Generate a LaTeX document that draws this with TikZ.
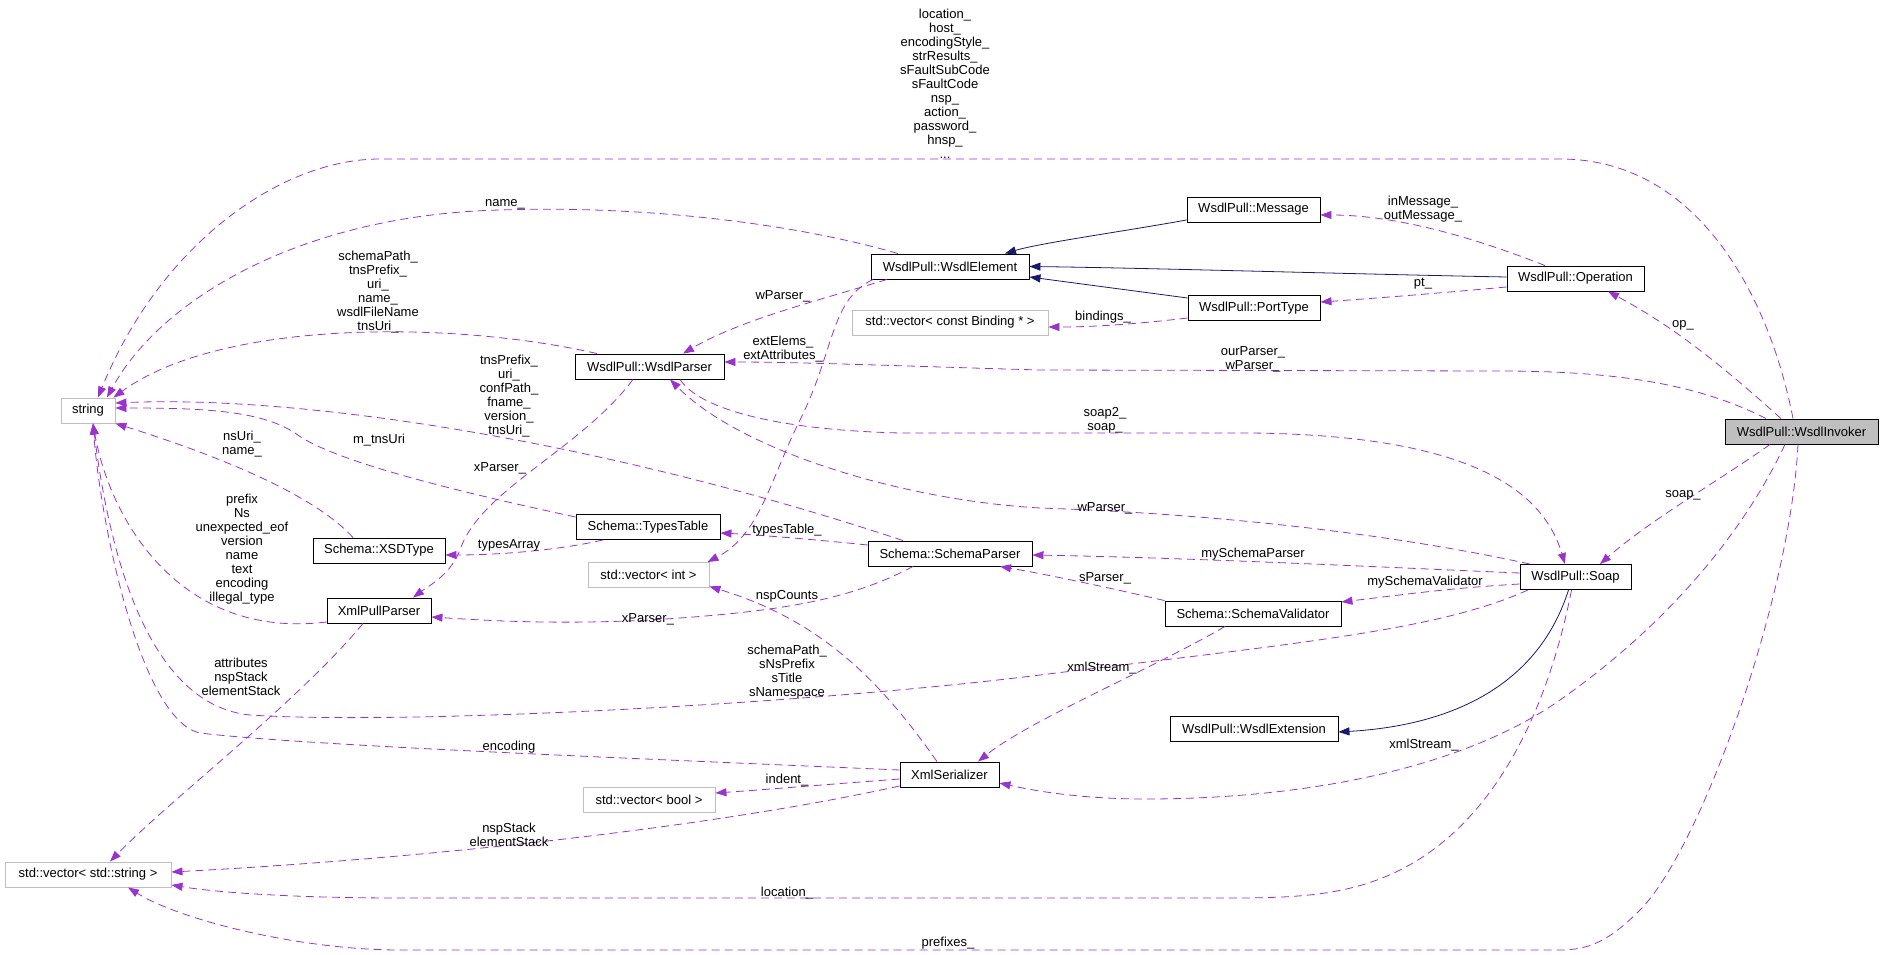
\documentclass[tikz,border=0pt]{standalone}
\usepackage{fontspec}
\setmainfont{Liberation Sans}
\usetikzlibrary{arrows.meta,calc}
\definecolor{collc}{RGB}{154,50,205}
\definecolor{inhc}{RGB}{25,25,112}
\definecolor{ugray}{RGB}{191,191,191}
\begin{document}
\begin{tikzpicture}[x=1pt,y=-1pt,
  cls/.style={draw=black, line width=0.9pt, minimum height=25pt, inner sep=0pt, font=\fontsize{13}{14}\selectfont},
  ucls/.style={cls, draw=ugray},
  lab/.style={align=center, font=\fontsize{13}{14}\selectfont, inner sep=0pt},
  colle/.style={draw=collc, line width=0.8pt, dash pattern=on 8pt off 5pt, -{Triangle[length=11pt,width=8pt]}},
  inhe/.style={draw=inhc, line width=0.8pt, -{Triangle[length=11pt,width=8pt]}}
]
\useasboundingbox (0,0) rectangle (1883,955);

% nodes
\node[cls, fill=ugray, minimum width=153pt] (inv) at (1801.5,431.5) {WsdlPull::WsdlInvoker};
\node[cls, minimum width=137pt] (op) at (1575.5,278.5) {WsdlPull::Operation};
\node[cls, minimum width=133pt] (msg) at (1253.5,209.5) {WsdlPull::Message};
\node[cls, minimum width=158pt] (elem) at (950,266.5) {WsdlPull::WsdlElement};
\node[cls, minimum width=132pt] (port) at (1254,308) {WsdlPull::PortType};
\node[ucls, minimum width=196pt] (bind) at (950,322.5) {std::vector< const Binding * >};
\node[cls, minimum width=149pt] (wparser) at (649.5,366.5) {WsdlPull::WsdlParser};
\node[ucls, minimum width=54pt] (string) at (88,410.5) {string};
\node[cls, minimum width=144pt] (types) at (648,527) {Schema::TypesTable};
\node[cls, minimum width=132pt] (xsd) at (379,550.5) {Schema::XSDType};
\node[cls, minimum width=164pt] (sparser) at (950,553.5) {Schema::SchemaParser};
\node[ucls, minimum width=121pt] (vint) at (648.5,575) {std::vector< int >};
\node[cls, minimum width=104pt] (xpp) at (379,610.5) {XmlPullParser};
\node[cls, minimum width=176pt] (sval) at (1253,613.5) {Schema::SchemaValidator};
\node[cls, minimum width=111pt] (soap) at (1575.5,577) {WsdlPull::Soap};
\node[cls, minimum width=168pt] (ext) at (1254,729) {WsdlPull::WsdlExtension};
\node[cls, minimum width=99pt] (xser) at (949.5,774.5) {XmlSerializer};
\node[ucls, minimum width=132pt] (vbool) at (649,799.5) {std::vector< bool >};
\node[ucls, minimum width=166pt] (vstr) at (88,874.5) {std::vector< std::string >};

% inheritance
\draw[inhe] ($(msg.west)+(0,10.5)$) .. controls (1120,232) and (1040,243) .. ($(elem.north)+(55,0)$);
\draw[inhe] ($(op.west)+(0,-1.5)$) .. controls (1350,274) and (1150,268) .. (elem.east);
\draw[inhe] ($(port.west)+(0,-10)$) -- ($(elem.east)+(0,10.5)$);
\draw[inhe] ($(soap.south)+(-7,0)$) .. controls (1540,680) and (1460,725) .. ($(ext.east)+(0,3)$);

% collaboration
\draw[colle] ($(inv.north)+(-8.5,0)$) .. controls (1770,300) and (1700,159) .. (1560,159) -- (380,159) .. controls (280,159) and (160,245) .. ($(string.north)+(10,0)$);
\draw[colle] ($(elem.north)+(-52,0)$) .. controls (800,225) and (650,205) .. (500,210) .. controls (300,215) and (160,300) .. ($(string.north)+(19,0)$);
\draw[colle] ($(wparser.north)+(-52.5,0)$) .. controls (450,320) and (220,320) .. ($(string.north east)+(-2,0)$);
\draw[colle] ($(sparser.north)+(-47,0)$) .. controls (600,440) and (300,395) .. ($(string.east)+(0,-7.5)$);
\draw[colle] ($(types.west)+(0,-10)$) .. controls (450,490) and (330,460) .. (295,433) .. controls (260,410) and (200,408) .. ($(string.east)+(0,-2.5)$);
\draw[colle] ($(xsd.north)+(-26,0)$) .. controls (310,490) and (200,450) .. (string.south east);
\draw[colle] ($(xpp.west)+(0,11.5)$) .. controls (180,640) and (110,520) .. ($(string.south)+(5,0)$);
\draw[colle] ($(xser.west)+(0,-4.5)$) .. controls (600,757) and (300,745) .. (200,733) .. controls (140,720) and (100,520) .. ($(string.south)+(5,0)$);
\draw[colle] ($(soap.south)+(-47.5,0)$) .. controls (1440,630) and (1300,643) .. (1040,675) .. controls (800,705) and (400,725) .. (250,715) .. controls (150,705) and (110,560) .. ($(string.south)+(5,0)$);
\draw[colle] ($(wparser.south)+(-16.5,0)$) .. controls (580,450) and (480,490) .. (460,550) .. controls (450,575) and (430,585) .. ($(xpp.north)+(34,0)$);
\draw[colle] ($(elem.south)+(-63,0)$) .. controls (820,300) and (740,320) .. ($(wparser.north)+(33.5,0)$);
\draw[colle] ($(elem.south)+(-77,0)$) .. controls (830,300) and (835,350) .. (800,420) .. controls (770,480) and (760,535) .. ($(vint.north east)+(-2,0)$);
\draw[colle] ($(port.west)+(0,10)$) .. controls (1120,326) and (1080,327) .. ($(bind.east)+(0,4.5)$);
\draw[colle] ($(op.north)+(-30.5,0)$) .. controls (1480,240) and (1400,215) .. ($(msg.east)+(0,5.5)$);
\draw[colle] ($(op.west)+(0,8.5)$) .. controls (1440,293) and (1380,298) .. ($(port.east)+(0,-6)$);
\draw[colle] ($(inv.north)+(-20.5,0)$) .. controls (1730,373) and (1680,330) .. ($(op.south)+(32.5,0)$);
\draw[colle] ($(inv.north)+(-35.5,0)$) .. controls (1700,385) and (1620,371) .. (1500,371) -- (1040,370) .. controls (900,366) and (800,362) .. ($(wparser.east)+(0,-4.5)$);
\draw[colle] ($(inv.south)+(-31.5,0)$) .. controls (1720,480) and (1650,520) .. ($(soap.north)+(24.5,0)$);
\draw[colle] ($(inv.south)+(-16.5,0)$) .. controls (1740,540) and (1660,630) .. (1560,700) .. controls (1460,770) and (1300,800) .. (1136,799) .. controls (1080,798) and (1040,792) .. ($(xser.east)+(0,8.5)$);
\draw[colle] ($(inv.south)+(-3.5,0)$) .. controls (1790,600) and (1700,850) .. (1640,910) .. controls (1610,940) and (1590,950) .. (1560,950) -- (400,950) .. controls (300,950) and (180,920) .. ($(vstr.south)+(40,0)$);
\draw[colle] ($(soap.south)+(-4,0)$) .. controls (1550,700) and (1500,820) .. (1400,870) .. controls (1350,895) and (1300,898) .. (1230,898) -- (400,898) .. controls (300,898) and (220,893) .. ($(vstr.east)+(0,10.5)$);
\draw[colle] ($(wparser.south)+(30.5,0)$) .. controls (700,410) and (780,430) .. (900,433) -- (1250,433) .. controls (1450,435) and (1540,480) .. ($(soap.north)+(-10.5,0)$);
\draw[colle] ($(soap.north)+(-45.5,0)$) .. controls (1420,540) and (1250,515) .. (1040,508) .. controls (900,500) and (740,450) .. ($(wparser.south)+(20.5,0)$);
\draw[colle] ($(types.south)+(-45,0)$) .. controls (560,550) and (500,555) .. ($(xsd.east)+(0,4.5)$);
\draw[colle] ($(sparser.west)+(0,-8.5)$) .. controls (820,540) and (760,535) .. ($(types.east)+(0,6)$);
\draw[colle] ($(sparser.south)+(-37,0)$) .. controls (850,600) and (780,612) .. (650,620) .. controls (550,625) and (480,620) .. ($(xpp.east)+(0,6.5)$);
\draw[colle] ($(soap.west)+(0,-4)$) .. controls (1400,568) and (1200,558) .. ($(sparser.east)+(0,1.5)$);
\draw[colle] ($(soap.west)+(0,7)$) .. controls (1450,588) and (1400,595) .. ($(sval.east)+(0,-11.5)$);
\draw[colle] (sval.north west) .. controls (1110,588) and (1050,575) .. ($(sparser.south)+(50,0)$);
\draw[colle] ($(sval.south)+(-28,0)$) .. controls (1150,670) and (1030,720) .. ($(xser.north)+(28.5,0)$);
\draw[colle] ($(xser.north)+(-12.5,0)$) .. controls (880,680) and (820,620) .. ($(vint.south east)+(0,-1.5)$);
\draw[colle] ($(xser.west)+(0,4.5)$) .. controls (820,785) and (760,790) .. ($(vbool.east)+(0,-6.5)$);
\draw[colle] ($(xser.west)+(0,11.5)$) .. controls (700,830) and (400,860) .. ($(vstr.east)+(0,-2.5)$);
\draw[colle] ($(xpp.south)+(-16,0)$) .. controls (300,700) and (170,800) .. ($(vstr.north)+(22,0)$);

% labels
\node[lab] (l1) at (945,84) {location\_\\host\_\\encodingStyle\_\\strResults\_\\sFaultSubCode\\sFaultCode\\nsp\_\\action\_\\password\_\\hnsp\_\\...};
\node[lab] (l2) at (505,204) {name\_};
\node[lab] (l3) at (378,292) {schemaPath\_\\tnsPrefix\_\\uri\_\\name\_\\wsdlFileName\\tnsUri\_};
\node[lab] (l4) at (509,396) {tnsPrefix\_\\uri\_\\confPath\_\\fname\_\\version\_\\tnsUri\_};
\node[lab] (l5) at (379,440) {m\_tnsUri};
\node[lab] (l6) at (242,444) {nsUri\_\\name\_};
\node[lab] (l7) at (242,549) {prefix\\Ns\\unexpected\_eof\\version\\name\\text\\encoding\\illegal\_type};
\node[lab] (l8) at (500,468) {xParser\_};
\node[lab] (l9) at (783,296) {wParser\_};
\node[lab] (l10) at (783,349) {extElems\_\\extAttributes\_};
\node[lab] (l11) at (1103,317) {bindings\_};
\node[lab] (l12) at (1423,209) {inMessage\_\\outMessage\_};
\node[lab] (l13) at (1423,284) {pt\_};
\node[lab] (l14) at (1253,359) {ourParser\_\\wParser\_};
\node[lab] (l15) at (1683,325) {op\_};
\node[lab] (l16) at (1105,420) {soap2\_\\soap\_};
\node[lab] (l17) at (1105,508) {wParser\_};
\node[lab] (l18) at (787,530) {typesTable\_};
\node[lab] (l19) at (509,545) {typesArray};
\node[lab] (l20) at (1253,554) {mySchemaParser};
\node[lab] (l21) at (1105,578) {sParser\_};
\node[lab] (l22) at (1425,582) {mySchemaValidator};
\node[lab] (l23) at (1683,495) {soap\_};
\node[lab] (l24) at (787,596) {nspCounts};
\node[lab] (l25) at (648,619) {xParser\_};
\node[lab] (l26) at (241,677) {attributes\\nspStack\\elementStack};
\node[lab] (l27) at (787,672) {schemaPath\_\\sNsPrefix\\sTitle\\sNamespace};
\node[lab] (l28) at (1102,668) {xmlStream\_};
\node[lab] (l29) at (509,747) {encoding};
\node[lab] (l30) at (1424,745) {xmlStream\_};
\node[lab] (l31) at (787,780) {indent\_};
\node[lab] (l32) at (509,835) {nspStack\\elementStack};
\node[lab] (l33) at (787,893) {location\_};
\node[lab] (l34) at (948,943) {prefixes\_};
\end{tikzpicture}
\end{document}
